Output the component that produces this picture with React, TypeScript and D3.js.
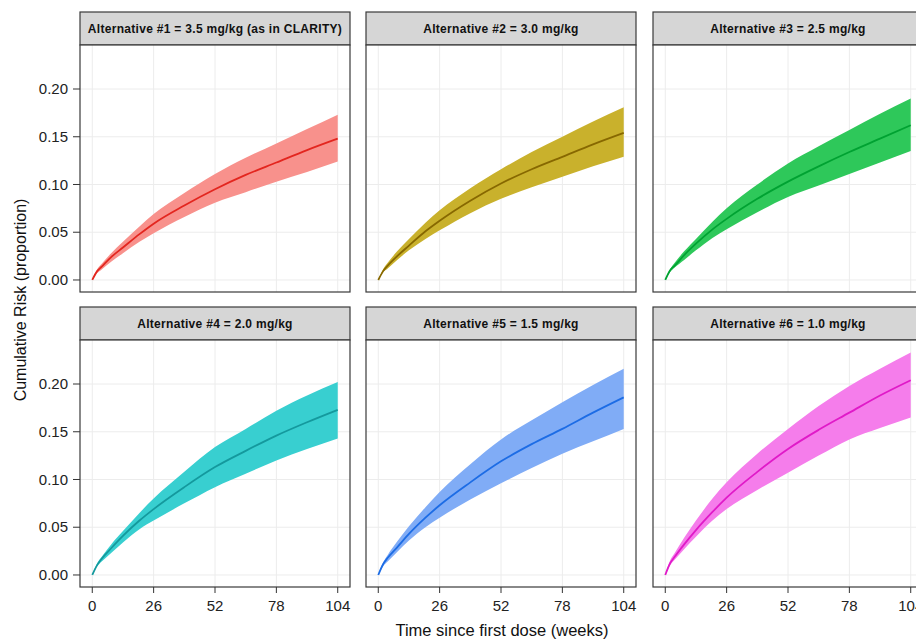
import React from "react";
import * as d3 from "d3";

// Weeks since first dose at which the cumulative risk is evaluated
const weeks = [0, 2, 4, 8, 13, 20, 26, 39, 52, 65, 78, 91, 104];

const panelTitles = [
  "Alternative #1 = 3.5 mg/kg (as in CLARITY)",
  "Alternative #2 = 3.0 mg/kg",
  "Alternative #3 = 2.5 mg/kg",
  "Alternative #4 = 2.0 mg/kg",
  "Alternative #5 = 1.5 mg/kg",
  "Alternative #6 = 1.0 mg/kg",
];

// Median cumulative risk per alternative
const riskMedian = [
  [0, 0.009, 0.014, 0.024, 0.034, 0.048, 0.059, 0.078, 0.095, 0.110, 0.123, 0.136, 0.148],
  [0, 0.009, 0.015, 0.025, 0.036, 0.051, 0.062, 0.083, 0.101, 0.116, 0.129, 0.142, 0.154],
  [0, 0.010, 0.015, 0.026, 0.038, 0.053, 0.064, 0.085, 0.103, 0.119, 0.134, 0.148, 0.162],
  [0, 0.010, 0.017, 0.028, 0.041, 0.057, 0.069, 0.092, 0.113, 0.130, 0.146, 0.160, 0.173],
  [0, 0.011, 0.018, 0.029, 0.043, 0.060, 0.073, 0.097, 0.119, 0.137, 0.153, 0.170, 0.186],
  [0, 0.012, 0.019, 0.032, 0.047, 0.066, 0.081, 0.108, 0.132, 0.152, 0.170, 0.188, 0.204],
];

// Upper bound of the uncertainty band
const riskUpper = [
  [0, 0.011, 0.017, 0.028, 0.040, 0.056, 0.069, 0.091, 0.111, 0.128, 0.143, 0.158, 0.173],
  [0, 0.011, 0.018, 0.030, 0.043, 0.060, 0.073, 0.096, 0.116, 0.134, 0.150, 0.166, 0.181],
  [0, 0.011, 0.018, 0.030, 0.043, 0.061, 0.075, 0.100, 0.122, 0.140, 0.157, 0.174, 0.190],
  [0, 0.012, 0.019, 0.032, 0.046, 0.065, 0.080, 0.108, 0.134, 0.153, 0.172, 0.188, 0.202],
  [0, 0.013, 0.021, 0.035, 0.051, 0.071, 0.087, 0.116, 0.142, 0.162, 0.181, 0.199, 0.216],
  [0, 0.015, 0.023, 0.039, 0.057, 0.080, 0.097, 0.127, 0.153, 0.177, 0.198, 0.216, 0.233],
];

// Lower bound of the uncertainty band
const riskLower = [
  [0, 0.007, 0.011, 0.019, 0.028, 0.040, 0.049, 0.066, 0.081, 0.092, 0.103, 0.113, 0.124],
  [0, 0.008, 0.012, 0.021, 0.031, 0.043, 0.052, 0.070, 0.085, 0.097, 0.108, 0.119, 0.129],
  [0, 0.008, 0.013, 0.021, 0.031, 0.044, 0.053, 0.071, 0.087, 0.099, 0.111, 0.123, 0.135],
  [0, 0.009, 0.014, 0.023, 0.034, 0.048, 0.057, 0.075, 0.092, 0.106, 0.120, 0.132, 0.143],
  [0, 0.009, 0.014, 0.024, 0.036, 0.050, 0.060, 0.079, 0.096, 0.112, 0.127, 0.140, 0.153],
  [0, 0.010, 0.016, 0.027, 0.040, 0.057, 0.069, 0.089, 0.107, 0.125, 0.142, 0.154, 0.165],
];

const xTicks = [0, 26, 52, 78, 104];
const yTicks = [0, 0.05, 0.1, 0.15, 0.2];

const bandColors = ["#f8918c", "#c9b12c", "#2ec85a", "#38cfd0", "#80acf6", "#f57deb"];
const lineColors = ["#e3261f", "#876800", "#00a232", "#14999d", "#1c6ce5", "#e01ac8"];

const W = 916;
const H = 640;
const colLeft = [80, 366, 653];
const panelW = 270;
const stripTop = [12, 307];
const stripH = 33;
const bodyH = 247;
const FONT = "'Liberation Sans', Arial, sans-serif";

export default function App() {
  const x0 = d3.scaleLinear().domain([-5.2, 109.2]).range([0, panelW]);
  const y0 = d3.scaleLinear().domain([-0.0126, 0.2461]).range([bodyH, 0]);

  const area = d3
    .area<number>()
    .x((_, i) => x0(weeks[i]))
    .curve(d3.curveMonotoneX);
  const line = d3
    .line<number>()
    .x((_, i) => x0(weeks[i]))
    .y((d) => y0(d))
    .curve(d3.curveMonotoneX);

  return (
    <svg
      width={W}
      height={H}
      style={{ position: "absolute", left: 0, top: 0, display: "block", background: "#fff" }}
      fontFamily={FONT}
    >
      <rect width={W} height={H} fill="#fff" />
      {panelTitles.map((title, p) => {
        const col = p % 3;
        const row = Math.floor(p / 3);
        const left = colLeft[col];
        const top = stripTop[row];
        const bodyTop = top + stripH;
        const bandPath = area
          .y0((_, i) => y0(riskLower[p][i]))
          .y1((_, i) => y0(riskUpper[p][i]))(riskMedian[p]);
        return (
          <g key={p}>
            {/* strip */}
            <rect
              x={left}
              y={top}
              width={panelW}
              height={stripH}
              fill="#d6d6d6"
              stroke="#3a3a3a"
              strokeWidth={1.2}
            />
            <text
              x={left + panelW / 2}
              y={top + stripH / 2}
              dy="0.35em"
              textAnchor="middle"
              fontSize={12}
              fontWeight="bold"
              letterSpacing={0.3}
              fill="#111"
            >
              {title}
            </text>
            <g transform={`translate(${left},${bodyTop})`}>
              <rect width={panelW} height={bodyH} fill="#fff" />
              {/* grid */}
              {xTicks.map((t) => (
                <line key={"gx" + t} x1={x0(t)} x2={x0(t)} y1={0} y2={bodyH} stroke="#ececec" strokeWidth={1} />
              ))}
              {yTicks.map((t) => (
                <line key={"gy" + t} x1={0} x2={panelW} y1={y0(t)} y2={y0(t)} stroke="#ececec" strokeWidth={1} />
              ))}
              <path d={bandPath || ""} fill={bandColors[p]} />
              <path d={line(riskMedian[p]) || ""} fill="none" stroke={lineColors[p]} strokeWidth={1.8} />
              <rect width={panelW} height={bodyH} fill="none" stroke="#3a3a3a" strokeWidth={1.2} />
              {/* y axis on left column */}
              {col === 0 &&
                yTicks.map((t) => (
                  <g key={"ty" + t} transform={`translate(0,${y0(t)})`}>
                    <line x1={-7} x2={0} stroke="#333" strokeWidth={1} />
                    <text x={-12} dy="0.35em" textAnchor="end" fontSize={15} fill="#222">
                      {d3.format(".2f")(t)}
                    </text>
                  </g>
                ))}
              {/* x axis on bottom row */}
              {row === 1 &&
                xTicks.map((t) => (
                  <g key={"tx" + t} transform={`translate(${x0(t)},${bodyH})`}>
                    <line y1={0} y2={6} stroke="#333" strokeWidth={1} />
                    <text y={24} textAnchor="middle" fontSize={15} fill="#222">
                      {t}
                    </text>
                  </g>
                ))}
            </g>
          </g>
        );
      })}
      <text
        transform="translate(26,300) rotate(-90)"
        textAnchor="middle"
        fontSize={16}
        fill="#111"
      >
        Cumulative Risk (proportion)
      </text>
      <text x={502} y={636} textAnchor="middle" fontSize={16.5} fill="#111">
        Time since first dose (weeks)
      </text>
    </svg>
  );
}
